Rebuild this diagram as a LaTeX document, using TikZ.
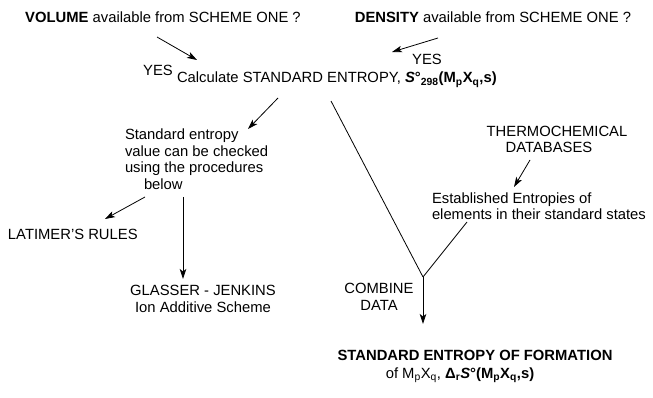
\documentclass[tikz,border=0pt]{standalone}
\usepackage{fontspec}
\setmainfont{Liberation Sans}
\usetikzlibrary{arrows.meta}

\tikzset{
  lbl/.style={anchor=base, inner sep=0pt, outer sep=0pt, font=\fontsize{14.8}{17}\selectfont},
  lblw/.style={lbl, anchor=base west},
  flow/.style={line width=0.8pt, -{Stealth[length=10pt,width=6.5pt,inset=2.5pt]}},
  link/.style={line width=0.8pt},
}

\begin{document}
\begin{tikzpicture}[x=1pt,y=-1pt]
\useasboundingbox (0,0) rectangle (653,398);

% questions at the top
\node[lbl] (vol) at (163,23) {\textbf{VOLUME} available from SCHEME ONE ?};
\node[lbl] (den) at (493,23) {\textbf{DENSITY} available from SCHEME ONE ?};
\node[lbl] (yesl) at (158,76) {YES};
\node[lbl] (yesr) at (427,65) {YES};

% standard entropy calculation
\node[lblw] (calc) at (177,83) {Calculate STANDARD ENTROPY, \textbf{\textit{S}°\textsubscript{298}(M\textsubscript{p}X\textsubscript{q},s)}};

% checking procedures
\node[lblw] (chk1) at (125,140) {Standard entropy};
\node[lblw] (chk2) at (125,157) {value can be checked};
\node[lblw] (chk3) at (125,173) {using the procedures};
\node[lblw] (chk4) at (144,190) {below};
\node[lblw] (lat) at (8,240) {LATIMER'S RULES};
\node[lbl] (gj1) at (203,295) {GLASSER - JENKINS};
\node[lbl] (gj2) at (203,312) {Ion Additive Scheme};

% element entropies
\node[lbl] (tc1) at (557,137) {THERMOCHEMICAL};
\node[lbl] (tc2) at (549,153) {DATABASES};
\node[lblw] (est1) at (432,204) {Established Entropies of};
\node[lblw] (est2) at (432,219) {elements in their standard states};

% combination
\node[lbl] (comb1) at (379,293) {COMBINE};
\node[lbl] (comb2) at (379,310) {DATA};
\node[lbl] (res1) at (475,360) {\textbf{STANDARD ENTROPY OF FORMATION}};
\node[lbl] (res2) at (460,378) {of M\textsubscript{p}X\textsubscript{q}, \textbf{Δ\textsubscript{r}\textit{S}°(M\textsubscript{p}X\textsubscript{q},s)}};

% connector end points
\coordinate (volA) at (157,37);
\coordinate (volB) at (197,60);
\coordinate (denA) at (438,38);
\coordinate (denB) at (392,52);
\coordinate (calcA) at (278,98);
\coordinate (calcB) at (248,129);
\coordinate (chkA) at (145,197);
\coordinate (chkB) at (105,219);
\coordinate (chkC) at (183,197);
\coordinate (chkD) at (183,279);
\coordinate (tcA) at (530,160);
\coordinate (tcB) at (514,187);
\coordinate (calcC) at (331,101);
\coordinate (estA) at (467,222);
\coordinate (join) at (423,277);
\coordinate (resA) at (423,324);

% connectors
\draw[flow] (volA) -- (volB);
\draw[flow] (denA) -- (denB);
\draw[flow] (calcA) -- (calcB);
\draw[flow] (chkA) -- (chkB);
\draw[flow] (chkC) -- (chkD);
\draw[flow] (tcA) -- (tcB);
\draw[link] (calcC) -- (join);
\draw[link] (estA) -- (join);
\draw[flow] (join) -- (resA);
\end{tikzpicture}
\end{document}
